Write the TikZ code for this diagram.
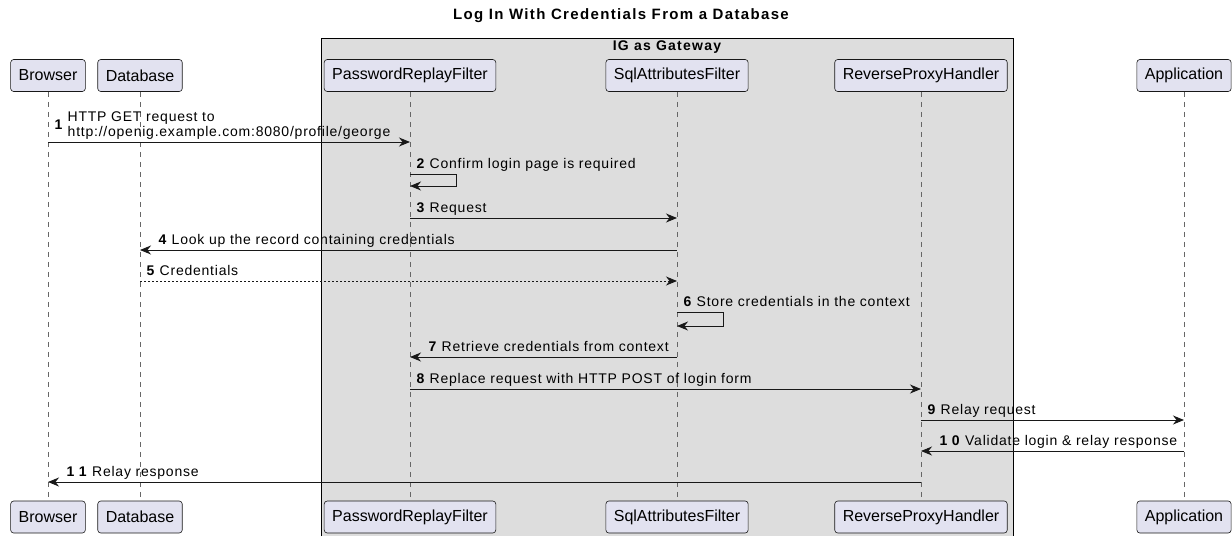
\documentclass[tikz,border=0pt]{standalone}
\usepackage{fontspec}
\setmainfont{Liberation Sans}
\newfontfamily\msgfont{Liberation Sans}[LetterSpace=5.5]
\newfontfamily\headfont{Liberation Sans}[LetterSpace=9]
\usepackage{tikz}
\usetikzlibrary{%
   arrows.meta,%
   positioning}

\definecolor{partfill}{HTML}{E2E2F0}
\definecolor{partline}{HTML}{181818}
\definecolor{groupfill}{HTML}{DDDDDD}

\begin{document}
\begin{tikzpicture}
[x=1pt, y=-1pt,
 part/.style={rectangle,rounded corners=3pt,draw=partline,fill=partfill,line width=0.6pt,inner xsep=8pt,inner ysep=0pt,minimum height=32pt,font=\fontsize{16}{19}\selectfont},
 life/.style={draw=black!60,line width=0.6pt,dash pattern=on 5pt off 5pt},
 msg/.style={draw=partline,line width=1pt,-{Stealth[length=11pt,width=9pt,inset=3.5pt]}},
 reply/.style={msg,dash pattern=on 2pt off 2pt},
 lblR/.style={pos=0,anchor=base west,xshift=6pt,yshift=6pt,inner sep=0pt,font=\msgfont\fontsize{14}{15}\selectfont},
 lblL/.style={pos=1,anchor=base west,xshift=18pt,yshift=6pt,inner sep=0pt,font=\msgfont\fontsize{14}{15}\selectfont}]
\useasboundingbox (0,0) rectangle (1232,536);
% title and gateway group
\node[font=\headfont\bfseries\fontsize{15}{18}\selectfont] (title) at (621,16) {Log In With Credentials From a Database};
\fill[groupfill] (321,38) rectangle (1013,536);
\draw[line width=1pt] (321,536) -- (321,38) -- (1013,38) -- (1013,536);
\node[font=\headfont\bfseries\fontsize{14}{16}\selectfont] (group) at (667,47) {IG as Gateway};
% participants
\node[part] (Browser)   at (  48, 75.5) {Browser};
\node[part] (Database)  at ( 140, 75.5) {Database};
\node[part] (PRF)       at ( 410, 75.5) {PasswordReplayFilter};
\node[part] (SAF)       at ( 677, 75.5) {SqlAttributesFilter};
\node[part] (RPH)       at ( 921, 75.5) {ReverseProxyHandler};
\node[part] (App)       at (1184, 75.5) {Application};
\node[part] (BrowserB)  at (  48, 517) {Browser};
\node[part] (DatabaseB) at ( 140, 517) {Database};
\node[part] (PRFB)      at ( 410, 517) {PasswordReplayFilter};
\node[part] (SAFB)      at ( 677, 517) {SqlAttributesFilter};
\node[part] (RPHB)      at ( 921, 517) {ReverseProxyHandler};
\node[part] (AppB)      at (1184, 517) {Application};
\path (Browser)  edge[life] (BrowserB)
      (Database) edge[life] (DatabaseB)
      (PRF)      edge[life] (PRFB)
      (SAF)      edge[life] (SAFB)
      (RPH)      edge[life] (RPHB)
      (App)      edge[life] (AppB);
% message rows
\coordinate (r1)  at (0,142);
\coordinate (r2)  at (0,174);
\coordinate (r2b) at (0,186);
\coordinate (r3)  at (0,218);
\coordinate (r4)  at (0,250);
\coordinate (r5)  at (0,281);
\coordinate (r6)  at (0,312);
\coordinate (r6b) at (0,326);
\coordinate (r7)  at (0,357);
\coordinate (r8)  at (0,389);
\coordinate (r9)  at (0,420);
\coordinate (r10) at (0,451);
\coordinate (r11) at (0,482);
\path (Browser |- r1) edge[msg] node[lblR,anchor=south west,yshift=-5pt]
          {\textbf{1} \begin{tabular}[c]{@{}l@{}}HTTP GET request to\\http://openig.example.com:8080/profile/george\end{tabular}} (PRF |- r1)
      (PRF |- r3)      edge[msg]   node[lblR] {\textbf{3} Request} (SAF |- r3)
      (SAF |- r4)      edge[msg]   node[lblL] {\textbf{4} Look up the record containing credentials} (Database |- r4)
      (Database |- r5) edge[reply] node[lblR] {\textbf{5} Credentials} (SAF |- r5)
      (SAF |- r7)      edge[msg]   node[lblL] {\textbf{7} Retrieve credentials from context} (PRF |- r7)
      (PRF |- r8)      edge[msg]   node[lblR] {\textbf{8} Replace request with HTTP POST of login form} (RPH |- r8)
      (RPH |- r9)      edge[msg]   node[lblR] {\textbf{9} Relay request} (App |- r9)
      (App |- r10)     edge[msg]   node[lblL] {\textbf{1 0} Validate login \& relay response} (RPH |- r10)
      (RPH |- r11)     edge[msg]   node[lblL] {\textbf{1 1} Relay response} (Browser |- r11);
% self messages
\draw[msg] (PRF |- r2) -- node[lblR] {\textbf{2} Confirm login page is required} ++(46,0) -- ++(0,12) -- (PRF |- r2b);
\draw[msg] (SAF |- r6) -- node[lblR] {\textbf{6} Store credentials in the context} ++(46,0) -- ++(0,14) -- (SAF |- r6b);
\end{tikzpicture}
\end{document}
